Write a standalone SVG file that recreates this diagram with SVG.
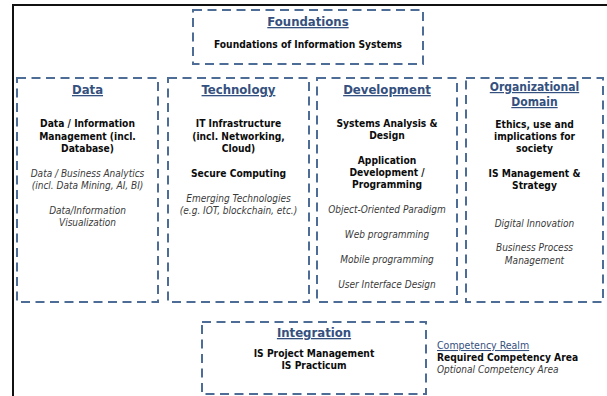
<svg xmlns="http://www.w3.org/2000/svg" width="607" height="396" viewBox="0 0 607 396">
  <style>
    .box { fill: none; stroke: #4d6c96; stroke-width: 2; stroke-dasharray: 9 5.5; }
    text { font-family: "DejaVu Sans Condensed", "DejaVu Sans", "Liberation Sans", sans-serif; text-anchor: middle; }
    .hd { font-size: 13px; font-weight: bold; fill: #34507e; text-decoration: underline; }
    .hd2 { font-size: 12px; }
    .req { font-size: 10.2px; font-weight: bold; fill: #0c0c0c; }
    .opt { font-size: 10px; font-style: italic; fill: #3a3a3a; }
    .lg { text-anchor: start; }
  </style>
  <rect width="607" height="396" fill="#fff"/>

  <!-- outer frame -->
  <path d="M13,396 V5 H607" fill="none" stroke="#111" stroke-width="2"/>

  <g id="connectors"/>

  <g id="foundations">
    <rect class="box" x="193" y="10" width="230" height="54"/>
    <text class="hd" x="308" y="26">Foundations</text>
    <text class="req" x="308" y="48">Foundations of Information Systems</text>
  </g>

  <g id="data">
    <rect class="box" x="17" y="78" width="141" height="224"/>
    <text class="hd" x="87.5" y="94">Data</text>
    <text class="req" x="87.5" y="127">Data / Information</text>
    <text class="req" x="87.5" y="140">Management (incl.</text>
    <text class="req" x="87.5" y="152">Database)</text>
    <text class="opt" x="87.5" y="177">Data / Business Analytics</text>
    <text class="opt" x="87.5" y="189">(incl. Data Mining, AI, BI)</text>
    <text class="opt" x="87.5" y="214">Data/Information</text>
    <text class="opt" x="87.5" y="226">Visualization</text>
  </g>

  <g id="technology">
    <rect class="box" x="168" y="78" width="141" height="224"/>
    <text class="hd" x="238.5" y="94">Technology</text>
    <text class="req" x="238.5" y="127">IT Infrastructure</text>
    <text class="req" x="238.5" y="140">(incl. Networking,</text>
    <text class="req" x="238.5" y="152">Cloud)</text>
    <text class="req" x="238.5" y="177">Secure Computing</text>
    <text class="opt" x="238.5" y="202">Emerging Technologies</text>
    <text class="opt" x="238.5" y="214">(e.g. IOT, blockchain, etc.)</text>
  </g>

  <g id="development">
    <rect class="box" x="317" y="78" width="140" height="224"/>
    <text class="hd" x="387" y="94">Development</text>
    <text class="req" x="387" y="127">Systems Analysis &amp;</text>
    <text class="req" x="387" y="139">Design</text>
    <text class="req" x="387" y="164">Application</text>
    <text class="req" x="387" y="176">Development /</text>
    <text class="req" x="387" y="188">Programming</text>
    <text class="opt" x="387" y="213">Object-Oriented Paradigm</text>
    <text class="opt" x="387" y="238">Web programming</text>
    <text class="opt" x="387" y="263">Mobile programming</text>
    <text class="opt" x="387" y="288">User Interface Design</text>
  </g>

  <g id="organizational-domain">
    <rect class="box" x="466" y="78" width="137" height="224"/>
    <text class="hd hd2" x="534.5" y="91">Organizational</text>
    <text class="hd hd2" x="534.5" y="106">Domain</text>
    <text class="req" x="534.5" y="128">Ethics, use and</text>
    <text class="req" x="534.5" y="140">implications for</text>
    <text class="req" x="534.5" y="152">society</text>
    <text class="req" x="534.5" y="177">IS Management &amp;</text>
    <text class="req" x="534.5" y="189">Strategy</text>
    <text class="opt" x="534.5" y="227">Digital Innovation</text>
    <text class="opt" x="534.5" y="251">Business Process</text>
    <text class="opt" x="534.5" y="264">Management</text>
  </g>

  <g id="integration">
    <rect class="box" x="202" y="322" width="224" height="72"/>
    <text class="hd" x="314" y="337">Integration</text>
    <text class="req" x="314" y="357">IS Project Management</text>
    <text class="req" x="314" y="369">IS Practicum</text>
  </g>

  <g id="legend">
    <text class="hd lg" x="437" y="349" style="font-size:10.5px;font-weight:normal">Competency Realm</text>
    <text class="req lg" x="437" y="361">Required Competency Area</text>
    <text class="opt lg" x="437" y="373">Optional Competency Area</text>
  </g>
</svg>
